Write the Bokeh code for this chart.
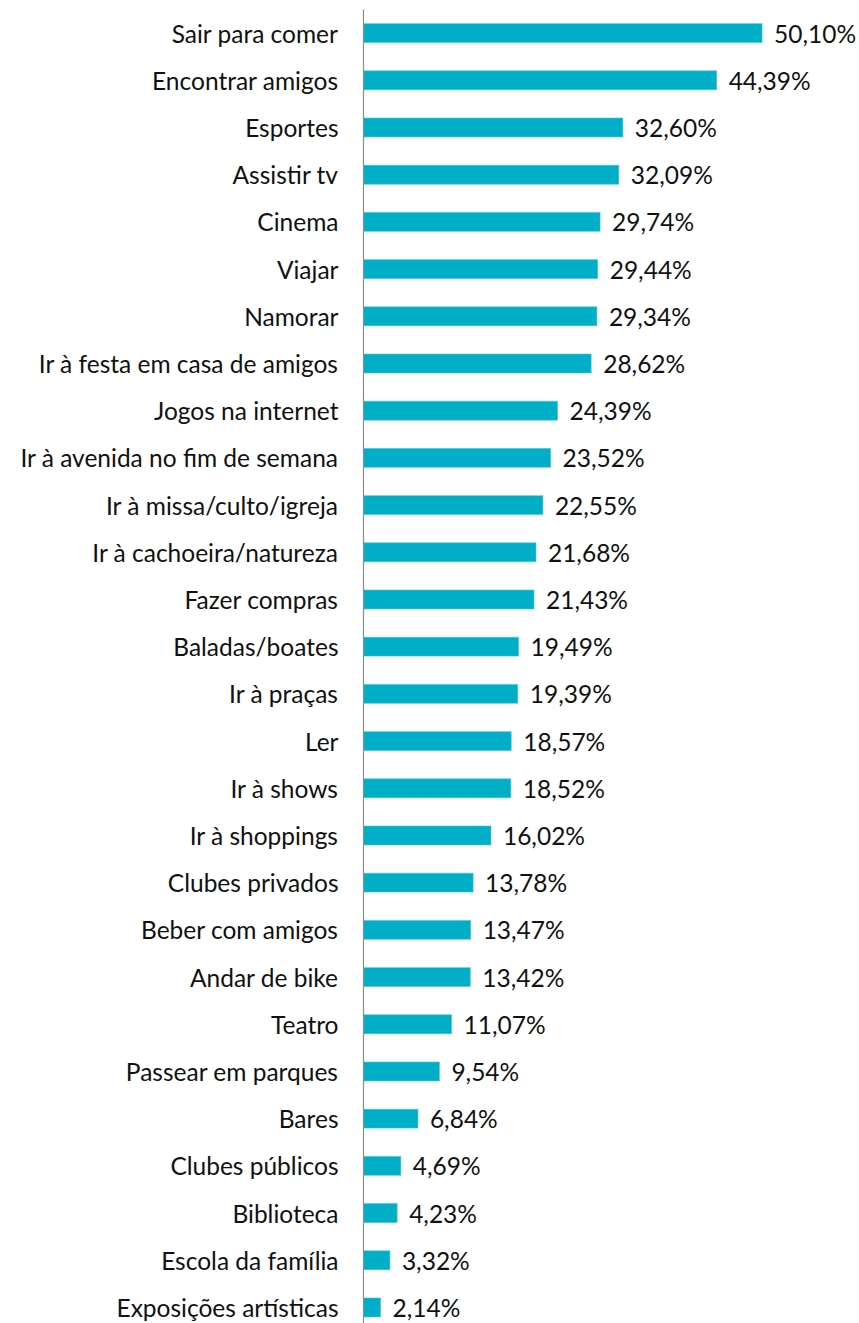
from bokeh.plotting import figure
from bokeh.models import ColumnDataSource, Range1d, FixedTicker, LabelSet
from bokeh.core.properties import value
from bokeh.embed import file_html
from bokeh.resources import INLINE

categories = [
    "Sair para comer", "Encontrar amigos", "Esportes", "Assistir tv", "Cinema",
    "Viajar", "Namorar", "Ir à festa em casa de amigos", "Jogos na internet",
    "Ir à avenida no fim de semana", "Ir à missa/culto/igreja",
    "Ir à cachoeira/natureza", "Fazer compras", "Baladas/boates", "Ir à praças",
    "Ler", "Ir à shows", "Ir à shoppings", "Clubes privados", "Beber com amigos",
    "Andar de bike", "Teatro", "Passear em parques", "Bares", "Clubes públicos",
    "Biblioteca", "Escola da família", "Exposições artísticas",
]
values = [
    50.10, 44.39, 32.60, 32.09, 29.74, 29.44, 29.34, 28.62, 24.39, 23.52,
    22.55, 21.68, 21.43, 19.49, 19.39, 18.57, 18.52, 16.02, 13.78, 13.47,
    13.42, 11.07, 9.54, 6.84, 4.69, 4.23, 3.32, 2.14,
]
labels = [f"{v:.2f}".replace(".", ",") + "%" for v in values]
ypos = list(range(len(categories)))

src = ColumnDataSource(dict(y=ypos, v=values, lab=labels, cat=categories))

FONT = "Lato"
FS = "24.5px"
p = figure(
    width=859, height=1323,
    output_backend="svg", toolbar_location=None,
    x_range=Range1d(0, 62.35), y_range=Range1d(27.34, -0.5),
    x_axis_location=None,
    min_border_left=363, min_border_right=0, min_border_top=9, min_border_bottom=0,
)
p.outline_line_color = None
p.grid.grid_line_color = None
p.background_fill_color = "white"

p.hbar(y="y", right="v", left=0, height=0.4, source=src,
       fill_color="#00AEC7", line_color="#3FC3D6", line_width=0.6)

p.add_layout(LabelSet(x="v", y="y", text="lab", source=src, x_offset=12,
                      text_baseline="middle", text_align="left",
                      text_font=value(FONT), text_font_size=FS, text_color="#111111"))

yax = p.yaxis[0]
yax.ticker = FixedTicker(ticks=ypos)
yax.major_label_overrides = {i: c for i, c in enumerate(categories)}
yax.major_tick_line_color = None
yax.minor_tick_line_color = None
yax.major_tick_out = 0
yax.major_tick_in = 0
yax.axis_line_color = "#8C8C8C"
yax.axis_line_width = 1.2
yax.major_label_standoff = 25
yax.major_label_text_font = FONT
yax.major_label_text_font_size = FS
yax.major_label_text_color = "#111111"

open("out.html", "w").write(file_html(p, INLINE))
